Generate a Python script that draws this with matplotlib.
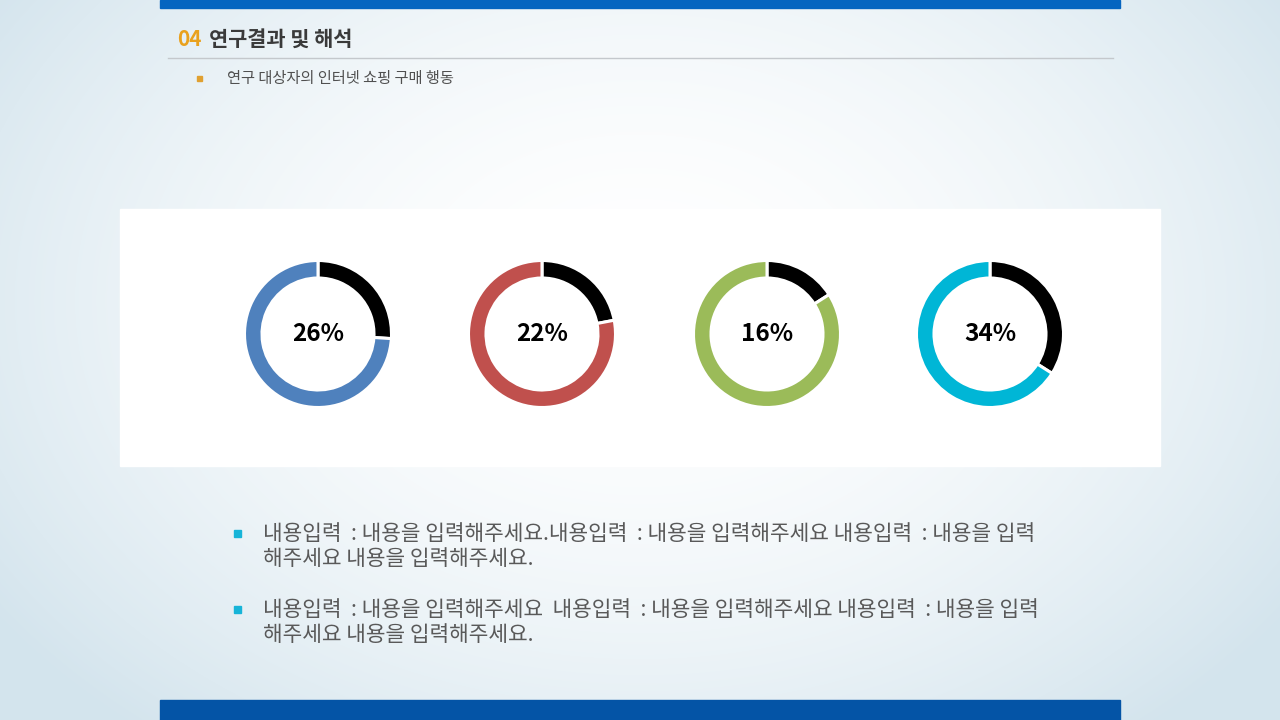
import numpy as np
import matplotlib
matplotlib.use('Agg')
import matplotlib.pyplot as plt
from matplotlib.patches import Rectangle

plt.rcParams['font.family'] = ['Noto Sans CJK KR', 'DejaVu Sans']

# data
values = [26, 22, 16, 34]
ring_colors = ['#4f81bd', '#c0504d', '#9bbb59', '#00b6d6']
labels = ['26%', '22%', '16%', '34%']
centers_x = [318, 542, 767, 990]

title_num = '04'
title_text = '연구결과 및 해석'
subtitle = '연구 대상자의 인터넷 쇼핑 구매 행동'
bullet_lines = [
    ['내용입력  : 내용을 입력해주세요.내용입력  : 내용을 입력해주세요 내용입력  : 내용을 입력',
     '해주세요 내용을 입력해주세요.'],
    ['내용입력  : 내용을 입력해주세요  내용입력  : 내용을 입력해주세요 내용입력  : 내용을 입력',
     '해주세요 내용을 입력해주세요.'],
]

W, H = 1280, 720
fig = plt.figure(figsize=(W / 100, H / 100), dpi=100)
bg = fig.add_axes([0, 0, 1, 1])
bg.set_xlim(0, W)
bg.set_ylim(H, 0)
bg.axis('off')

# soft radial background
yy, xx = np.mgrid[0:H, 0:W]
r = np.sqrt(((xx - 640) / 780.0) ** 2 + ((yy - 300) / 560.0) ** 2)
t = np.clip(r, 0, 1) ** 1.8
c0 = np.array([1.0, 1.0, 1.0])
c1 = np.array([0.83, 0.895, 0.93])
img = c0[None, None, :] * (1 - t[..., None]) + c1[None, None, :] * t[..., None]
bg.imshow(img, extent=[0, W, H, 0], aspect='auto', zorder=0)

# bars
bg.add_patch(Rectangle((160, 0), 960, 8, color='#0565c0', zorder=1))
bg.add_patch(Rectangle((160, 700), 960, 20, color='#0454a6', zorder=1))

# header
bg.text(177, 39, title_num, color='#e9a11d', fontsize=15, fontweight='bold',
        va='center', ha='left', zorder=2)
bg.text(209, 39, title_text, color='#3a3a3a', fontsize=15, fontweight='bold',
        va='center', ha='left', zorder=2)
bg.plot([168, 1113], [58, 58], color='#c4c8cc', lw=1, zorder=2)
bg.add_patch(Rectangle((197, 75.5), 5, 5, color='#e0a030', zorder=2))
bg.text(227, 78, subtitle, color='#505050', fontsize=11, va='center', ha='left', zorder=2)

# white panel
bg.add_patch(Rectangle((120, 209), 1040, 257, color='white', zorder=1))

# donuts
R = 73.5
for v, col, lab, cx in zip(values, ring_colors, labels, centers_x):
    ax = fig.add_axes([(cx - R) / W, 1 - (334 + R) / H, 2 * R / W, 2 * R / H])
    ax.pie([v, 100 - v], colors=['black', col], startangle=90, counterclock=False,
           radius=1, wedgeprops=dict(width=17.5 / R, edgecolor='white', linewidth=2.2))
    ax.set_xlim(-1, 1)
    ax.set_ylim(-1, 1)
    ax.set_aspect('equal')
    ax.axis('off')
    ax.text(0, 0, lab, ha='center', va='center', fontsize=17.5, fontweight='bold', color='black')

# bullet text
for i, lines in enumerate(bullet_lines):
    y0 = 534 + i * 76
    bg.add_patch(Rectangle((234, y0 - 4), 7, 7, color='#16b4d8', zorder=2))
    for j, line in enumerate(lines):
        bg.text(263, y0 + j * 25, line, color='#595959', fontsize=15.4,
                va='center', ha='left', zorder=2)

fig.savefig('out.png', dpi=100)
